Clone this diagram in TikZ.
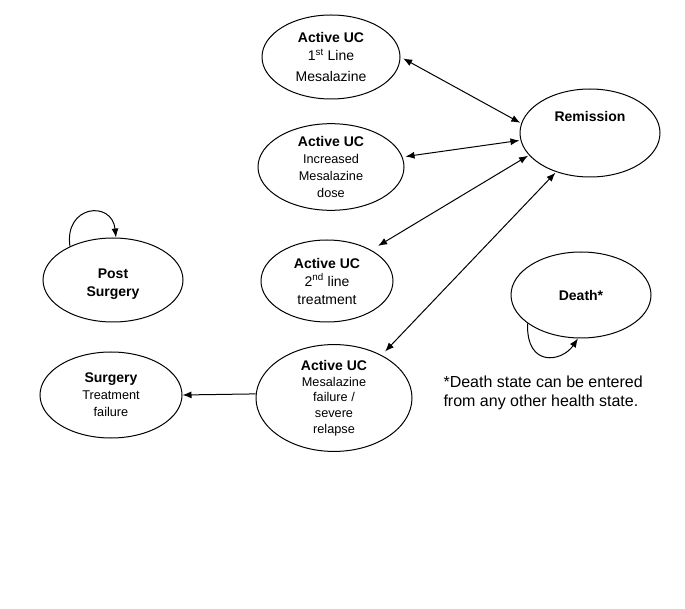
\documentclass[tikz,border=0pt]{standalone}
\usepackage{fontspec}
\setmainfont{Liberation Sans}
\usetikzlibrary{shapes.geometric,arrows.meta}

\begin{document}
\begin{tikzpicture}[x=1pt, y=-1pt, >={Latex[length=9pt,width=7pt]},
  state/.style={draw, ellipse, line width=1pt, inner sep=0pt, align=center,
    font=\fontsize{12.7}{17}\selectfont},
  head/.style={font=\fontsize{14}{17}\selectfont\bfseries},
  trans/.style={line width=1pt}]
\useasboundingbox (0,0) rectangle (685,609);

% active UC states, top to bottom
\node[state, minimum width=138, minimum height=84, font=\fontsize{14}{18}\selectfont] (first) at (331,57)
  {\textbf{Active UC}\\1\textsuperscript{st} Line\\[3pt]Mesalazine};
\node[state, minimum width=146, minimum height=84] (incr) at (331,167)
  {{\bfseries\fontsize{14}{17}\selectfont Active UC}\\Increased\\Mesalazine\\dose};
\node[state, minimum width=132, minimum height=82, font=\fontsize{14}{18}\selectfont] (second) at (327,281)
  {\textbf{Active UC}\\2\textsuperscript{nd} line\\treatment};
\node[state, minimum width=156, minimum height=92, font=\fontsize{12.7}{15.7}\selectfont] (fail) at (334,398)
  {{\bfseries\fontsize{14}{17}\selectfont Active UC}\\Mesalazine\\failure /\\severe\\relapse};

% remission, text sits high
\node[state, minimum width=140, minimum height=88] (remis) at (590,133) {};
\node[head] (remtxt) at (590,116) {Remission};

% surgery states
\node[state, minimum width=140, minimum height=84] (post) at (113,280) {};
\node[head, align=center, font=\fontsize{14}{18}\selectfont\bfseries] (posttxt) at (113,284) {Post\\Surgery};
\node[state, minimum width=142, minimum height=86] (surg) at (111,395)
  {{\bfseries\fontsize{14}{17}\selectfont Surgery}\\Treatment\\failure};

\node[state, minimum width=140, minimum height=86, head] (death) at (581,295) {Death*};

\draw[trans, <->, shorten <=3pt, shorten >=1pt] (first.east) -- (remis.172);
\draw[trans, <->, shorten <=3pt, shorten >=1pt] (incr.8) -- (remis.186);
\draw[trans, <->, shorten <=8pt, shorten >=1pt] (second.35) -- (remis.200);
\draw[trans, <->, shorten <=5pt, shorten >=1pt] (fail.42) -- (remis.229);
\draw[trans, ->] (fail.177) -- (surg.east);

% self loops
\draw[trans, ->] (post.142) .. controls (64,205) and (112,200) .. (post.86);
\draw[trans, ->] (death.208) .. controls (526,368) and (562,362) .. (death.266);

\node[anchor=west, align=left, font=\fontsize{16}{19.5}\selectfont] (note) at (440,393)
  {*Death state can be entered\\from any other health state.};
\end{tikzpicture}
\end{document}
